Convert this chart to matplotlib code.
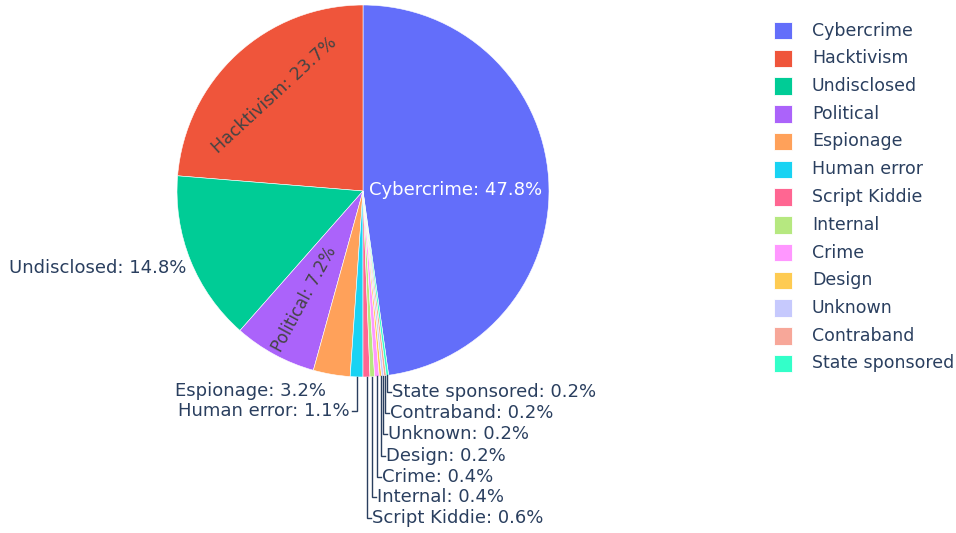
import numpy as np
import matplotlib.pyplot as plt
from matplotlib.patches import Rectangle

categories = ['Cybercrime', 'Hacktivism', 'Undisclosed', 'Political', 'Espionage',
              'Human error', 'Script Kiddie', 'Internal', 'Crime', 'Design',
              'Unknown', 'Contraband', 'State sponsored']
shares = [47.8, 23.7, 14.8, 7.2, 3.2, 1.1, 0.6, 0.4, 0.4, 0.2, 0.2, 0.2, 0.2]
colors = ['#636efa', '#ef553b', '#00cc96', '#ab63fa', '#ffa15a', '#19d3f3',
          '#ff6692', '#b6e880', '#ff97ff', '#fecb52', '#c6c9fd', '#f7a799', '#33ffc9']

W, H = 956, 533
TXT = '#2a3f5f'
FS = 13
plt.rcParams['font.family'] = ['DejaVu Sans']

fig = plt.figure(figsize=(W / 100, H / 100), dpi=100)
ax = fig.add_axes([0, 0, 1, 1])

cx, cy, R = 363, H - 191, 186
total = sum(shares)
wedges, _ = ax.pie(shares, colors=colors, center=(cx, cy), radius=R,
                   startangle=90 - 360 * shares[0] / total, counterclock=True,
                   wedgeprops=dict(edgecolor='white', linewidth=0.4))
ax.set_xlim(0, W)
ax.set_ylim(0, H)
ax.axis('off')


def label(i):
    return f'{categories[i]}: {shares[i]:.1f}%'


def mid(i):
    return np.deg2rad((wedges[i].theta1 + wedges[i].theta2) / 2)


def edge(i):
    a = mid(i)
    return cx + R * np.cos(a), cy + R * np.sin(a)


# labels inside the larger slices
a = mid(0)
ax.text(cx + 0.5 * R * np.cos(a), cy + 0.5 * R * np.sin(a) - 5, label(0),
        color='white', fontsize=FS, ha='center', va='center')
a = mid(1)
ax.text(cx + 0.7 * R * np.cos(a), cy + 0.7 * R * np.sin(a), label(1),
        color='#444444', fontsize=12.5, ha='center', va='center',
        rotation=np.rad2deg(a) - 90)
a = mid(3)
ax.text(cx + 0.66 * R * np.cos(a), cy + 0.66 * R * np.sin(a), label(3),
        color='#444444', fontsize=12, ha='center', va='center',
        rotation=np.rad2deg(a) - 180)

# outside labels without leader lines
ax.text(186, H - 268, label(2), color=TXT, fontsize=FS, ha='right', va='center')
ax.text(326, H - 391, label(4), color=TXT, fontsize=FS, ha='right', va='center')

# Human error: leader to the left
x0, y0 = edge(5)
yl = H - 411
ax.plot([x0, x0, x0 - 5], [y0, yl, yl], color=TXT, lw=1.0, solid_joinstyle='miter')
ax.text(x0 - 7, yl, label(5), color=TXT, fontsize=FS, ha='right', va='center')

# tiny slices: stacked labels under the pie
label_rows = [518, 497, 477, 456, 434, 413, 392]
for i, row in zip(range(6, 13), label_rows):
    x0, y0 = edge(i)
    yl = H - row
    ax.plot([x0, x0, x0 + 4], [y0, yl, yl], color=TXT, lw=1.0, solid_joinstyle='miter')
    ax.text(x0 + 5, yl, label(i), color=TXT, fontsize=FS, ha='left', va='center')

# legend
for k, (name, c) in enumerate(zip(categories, colors)):
    yc = H - (30.5 + 27.75 * k)
    ax.add_patch(Rectangle((774.5, yc - 8.75), 17.5, 17.5, facecolor=c,
                           edgecolor='white', lw=0.6))
    ax.text(812, yc, name, color=TXT, fontsize=12.5, ha='left', va='center')

fig.savefig('out.png', dpi=100, facecolor='white')
